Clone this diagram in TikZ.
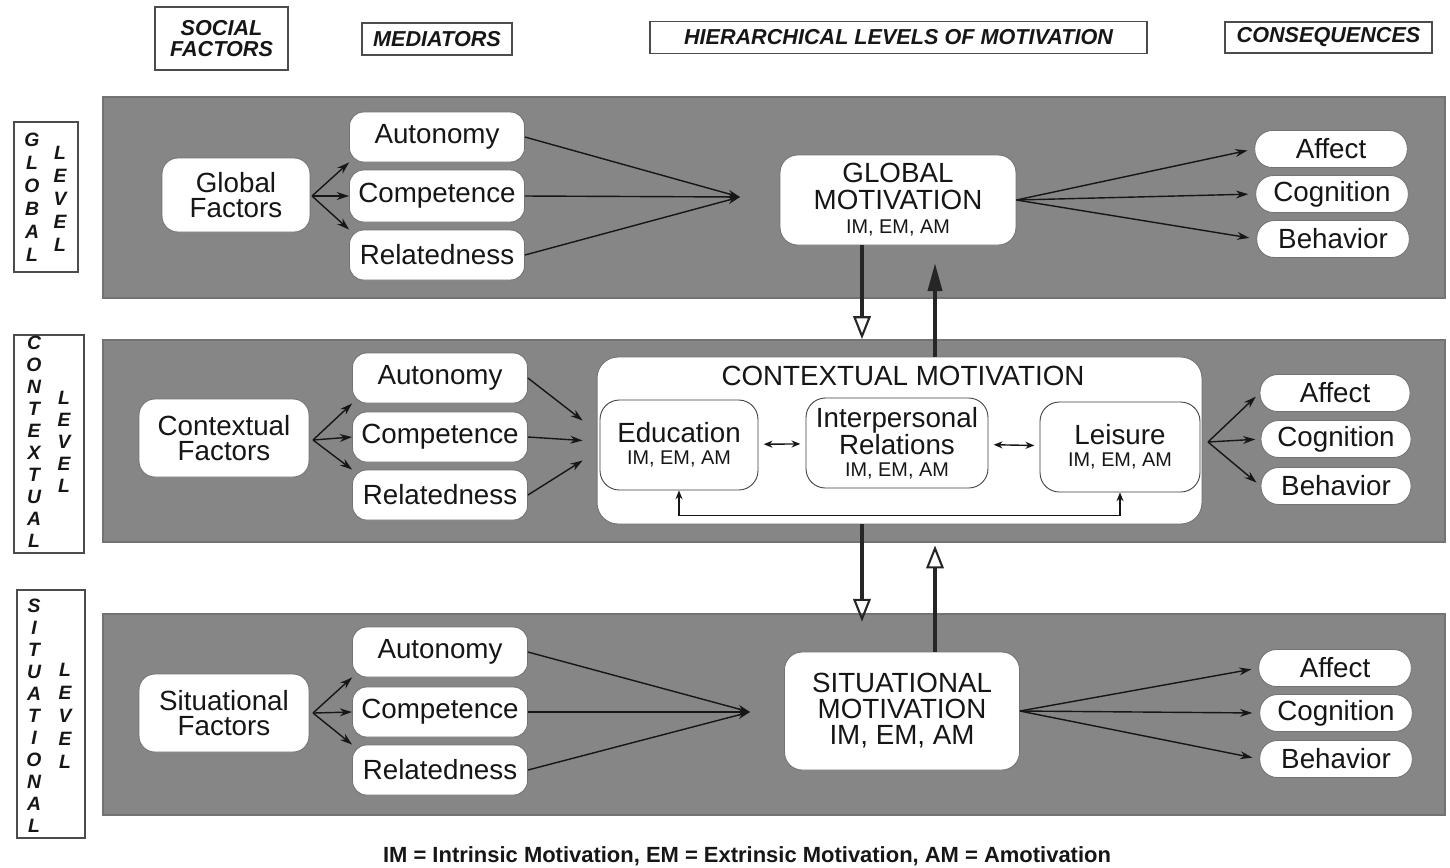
\documentclass[tikz,border=0pt]{standalone}
\usepackage{fontspec}
\setmainfont{Liberation Sans}
\usetikzlibrary{arrows.meta,calc}
\definecolor{bandgray}{RGB}{134,134,134}
\definecolor{ink}{RGB}{22,22,22}
\begin{document}
\begin{tikzpicture}[x=0.02cm,y=-0.02cm,
  band/.style={fill=bandgray,draw=black!55,line width=0.6pt},
  hdrbox/.style={draw=black!70,line width=0.9pt,inner sep=0pt,align=center,text=ink,
    font=\fontsize{12.3}{12}\selectfont\bfseries\itshape},
  lvlbox/.style={draw=black!70,line width=0.9pt,inner sep=0pt},
  lvlchar/.style={inner sep=0pt,text=ink,font=\fontsize{11}{11}\selectfont\bfseries\itshape},
  rbox/.style={draw=black!55,fill=white,line width=0.5pt,inner sep=0pt,align=center,text=ink,
    font=\fontsize{15.8}{14.5}\selectfont},
  factor/.style={rbox,rounded corners=9pt,minimum width=3.4cm,minimum height=1.56cm},
  mediator/.style={rbox,rounded corners=8pt,minimum width=3.5cm,minimum height=1.0cm},
  conseq/.style={rbox,rounded corners=10pt,minimum width=3.05cm,minimum height=0.74cm},
  motiv/.style={rbox,rounded corners=10pt},
  subbox/.style={rbox,rounded corners=11pt,draw=black!75,minimum height=1.8cm},
  link/.style={draw=ink,line width=0.8pt,-{Stealth[length=7pt,width=4.5pt]}},
  pair/.style={draw=ink,line width=0.8pt,{Stealth[length=5pt,width=4pt]}-{Stealth[length=5pt,width=4pt]}},
  vopen/.style={draw=black!85,line width=2.2pt,-{Triangle[open,length=13pt,width=10pt,line width=1.2pt]}},
  vfull/.style={draw=black!85,line width=2.2pt,-{Triangle[length=16pt,width=8pt]}}
]
\useasboundingbox (0,0) rectangle (1450,867);

% column headings
\node[hdrbox,minimum width=2.66cm,minimum height=1.26cm] (hsoc) at (221.5,38.5) {SOCIAL\\FACTORS};
\node[hdrbox,minimum width=3.0cm,minimum height=0.64cm] (hmed) at (437,39) {MEDIATORS};
\node[hdrbox,minimum width=9.94cm,minimum height=0.64cm] (hhier) at (898.5,37.5) {HIERARCHICAL LEVELS OF MOTIVATION};
\node[hdrbox,minimum width=4.14cm,minimum height=0.62cm] (hcon) at (1328.5,37.5) {CONSEQUENCES};

% shaded level bands
\path[band] (103,97) rectangle (1445,298);
\path[band] (103,340) rectangle (1445,542);
\path[band] (103,614) rectangle (1445,815);

% level captions at the left margin
\node[lvlbox,minimum width=1.28cm,minimum height=3.0cm] (lglob) at (46,197) {};
\foreach \ch [count=\i] in {G,L,O,B,A,L}
  \node[lvlchar] (lg\i) at (32,{140+23*(\i-1)}) {\ch};
\foreach \ch [count=\i] in {L,E,V,E,L}
  \node[lvlchar] (lgl\i) at (60,{153+23*(\i-1)}) {\ch};

\node[lvlbox,minimum width=1.4cm,minimum height=4.36cm] (lcont) at (49,444) {};
\foreach \ch [count=\i] in {C,O,N,T,E,X,T,U,A,L}
  \node[lvlchar] (lc\i) at (34,{343+22*(\i-1)}) {\ch};
\foreach \ch [count=\i] in {L,E,V,E,L}
  \node[lvlchar] (lcl\i) at (64,{398+22*(\i-1)}) {\ch};

\node[lvlbox,minimum width=1.36cm,minimum height=4.96cm] (lsit) at (51,714) {};
\foreach \ch [count=\i] in {S,I,T,U,A,T,I,O,N,A,L}
  \node[lvlchar] (ls\i) at (34,{606+22*(\i-1)}) {\ch};
\foreach \ch [count=\i] in {L,E,V,E,L}
  \node[lvlchar] (lsl\i) at (65,{670+23*(\i-1)}) {\ch};

% ---------- global level ----------
\node[factor,minimum width=2.96cm,minimum height=1.48cm] (gf) at (236,195) {Global\\Factors};
\node[mediator] (ga) at (437,137) {Autonomy};
\node[mediator,minimum height=1.04cm] (gc) at (437,196) {Competence};
\node[mediator] (gr) at (437,255) {Relatedness};
\node[motiv,minimum width=4.72cm,minimum height=1.8cm,font=\fontsize{15.8}{15}\selectfont] (gm) at (898,200)
  {GLOBAL\\MOTIVATION\\[-1pt]{\fontsize{11.3}{12}\selectfont IM, EM, AM}};
\node[conseq] (gaf) at (1331,149) {Affect};
\node[conseq] (gcg) at (1332,194) {Cognition};
\node[conseq] (gbh) at (1333,239) {Behavior};

\coordinate (gfan) at (312,196);
\coordinate (gin) at (740,197);
\draw[link] (gfan) -- (ga.south west);
\draw[link] (gfan) -- (gc.west);
\draw[link] (gfan) -- (gr.north west);
\draw[link] (ga.east) -- (gin);
\draw[link] (gc.east) -- (gin);
\draw[link] (gr.east) -- (gin);
\draw[link,shorten >=4pt] (gm.east) -- (gaf.west);
\draw[link,shorten >=4pt] (gm.east) -- (gcg.west);
\draw[link,shorten >=4pt] (gm.east) -- (gbh.west);

% ---------- contextual level ----------
\node[factor] (cf) at (224,438) {Contextual\\Factors};
\node[mediator] (ca) at (440,378) {Autonomy};
\node[mediator] (cc) at (440,437) {Competence};
\node[mediator] (cr) at (440,495) {Relatedness};
\node[motiv,rounded corners=12pt,minimum width=12.1cm,minimum height=3.34cm] (cm) at (899.5,440.5) {};
\node[inner sep=0pt,text=ink,font=\fontsize{15.8}{16}\selectfont] (ctitle) at (903,376) {CONTEXTUAL MOTIVATION};
\node[subbox,minimum width=3.16cm] (ed) at (679,445)
  {Education\\[-2pt]{\fontsize{11.3}{12}\selectfont IM, EM, AM}};
\node[subbox,minimum width=3.64cm] (ip) at (897,443)
  {Interpersonal\\Relations\\[-2pt]{\fontsize{11.3}{12}\selectfont IM, EM, AM}};
\node[subbox,minimum width=3.2cm] (le) at (1120,447)
  {Leisure\\[-2pt]{\fontsize{11.3}{12}\selectfont IM, EM, AM}};
\draw[pair,shorten <=3pt,shorten >=3pt] (ed) -- (ip);
\draw[pair,shorten <=3pt,shorten >=3pt] (ip) -- (le);
\draw[pair] (ed.south) -- ++(0,25) -| (le.south);

\node[conseq,minimum width=3.0cm] (caf) at (1335,393) {Affect};
\node[conseq,minimum width=3.0cm] (ccg) at (1336,439) {Cognition};
\node[conseq,minimum width=3.0cm] (cbh) at (1336,486) {Behavior};

\coordinate (cfan) at (313,440);
\coordinate (cout) at (1208,442);
\draw[link] (cfan) -- (ca.south west);
\draw[link] (cfan) -- (cc.west);
\draw[link] (cfan) -- (cr.north west);
\draw[link] (ca.east) -- ($(cm.west)+(-14,-20)$);
\draw[link] (cc.east) -- ($(cm.west)+(-14,0)$);
\draw[link] (cr.east) -- ($(cm.west)+(-14,20)$);
\draw[link,shorten >=3pt] (cout) -- (caf.west);
\draw[link,shorten >=3pt] (cout) -- (ccg.west);
\draw[link,shorten >=3pt] (cout) -- (cbh.west);

% ---------- situational level ----------
\node[factor] (sf) at (224,713) {Situational\\Factors};
\node[mediator] (sa) at (440,652) {Autonomy};
\node[mediator] (sc) at (440,712) {Competence};
\node[mediator] (sr) at (440,770) {Relatedness};
\node[motiv,minimum width=4.7cm,minimum height=2.36cm,font=\fontsize{15.8}{14.8}\selectfont] (sm) at (902,711)
  {SITUATIONAL\\MOTIVATION\\IM, EM, AM};
\node[conseq] (saf) at (1335,668) {Affect};
\node[conseq] (scg) at (1336,713) {Cognition};
\node[conseq] (sbh) at (1336,759) {Behavior};

\coordinate (sfan) at (313,713);
\coordinate (sin) at (750,712);
\draw[link] (sfan) -- (sa.south west);
\draw[link] (sfan) -- (sc.west);
\draw[link] (sfan) -- (sr.north west);
\draw[link] (sa.east) -- (sin);
\draw[link] (sc.east) -- (sin);
\draw[link] (sr.east) -- (sin);
\draw[link,shorten >=4pt] (sm.east) -- (saf.west);
\draw[link,shorten >=4pt] (sm.east) -- (scg.west);
\draw[link,shorten >=4pt] (sm.east) -- (sbh.west);

% ---------- links between the levels ----------
\coordinate (xl) at (862,0);
\coordinate (xr) at (935,0);
\draw[vopen,shorten >=10pt] (gm.south -| xl) -- (cm.north -| xl);
\draw[vfull,shorten >=10pt] (cm.north -| xr) -- (gm.south -| xr);
\draw[vopen,shorten >=17pt] (cm.south -| xl) -- (sm.north -| xl);
\draw[vopen,shorten >=12pt] (sm.north -| xr) -- (cm.south -| xr);

% legend
\node[inner sep=0pt,text=ink,font=\fontsize{12.5}{13}\selectfont\bfseries] (legend) at (747,856)
  {IM = Intrinsic Motivation, EM = Extrinsic Motivation, AM = Amotivation};
\end{tikzpicture}
\end{document}
